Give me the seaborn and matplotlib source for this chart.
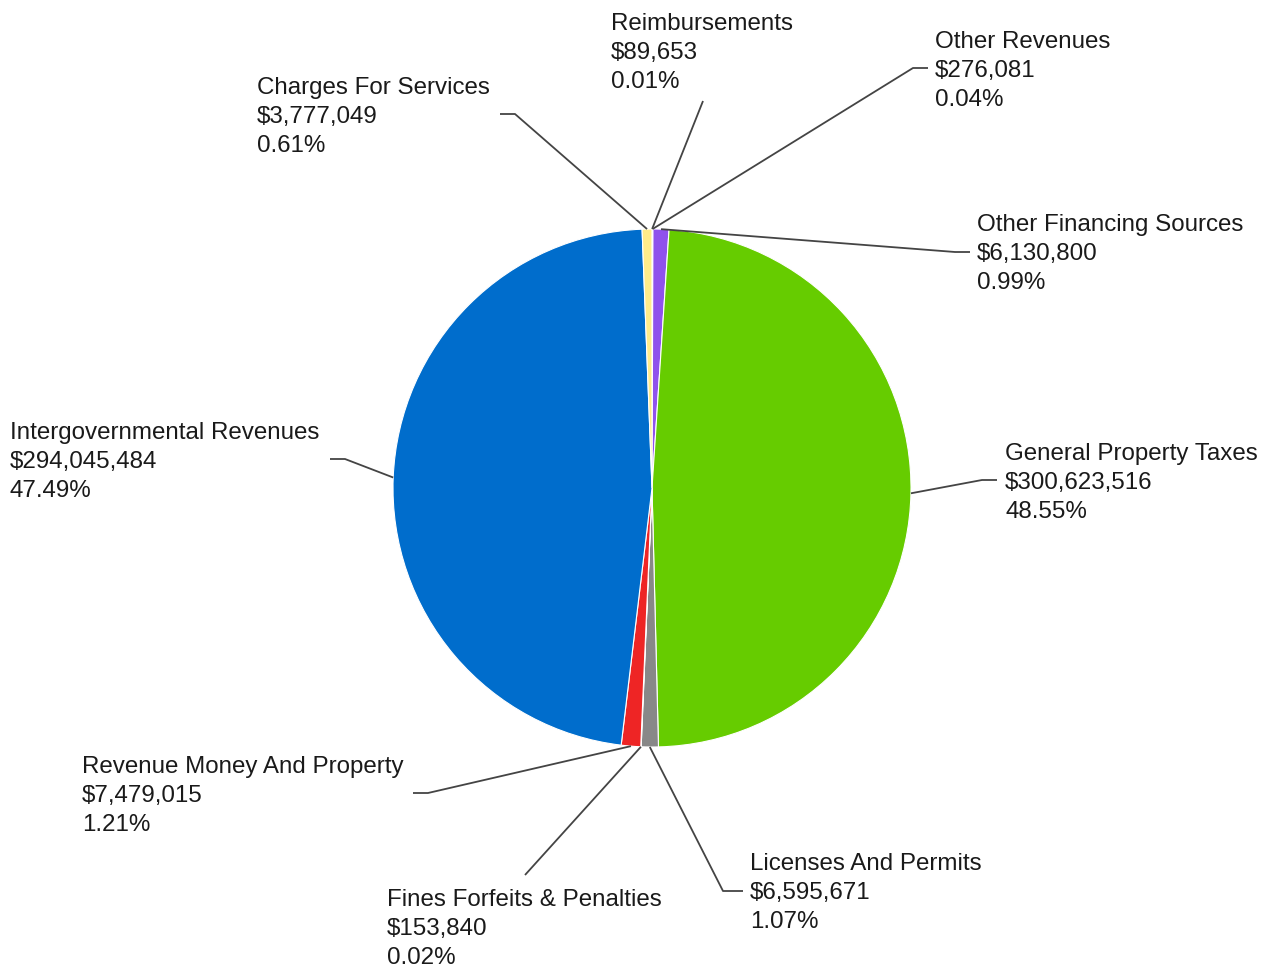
import numpy as np
import matplotlib.pyplot as plt
import seaborn as sns

# Revenue sources, clockwise from 12 o'clock
categories = [
    "Reimbursements",
    "Other Revenues",
    "Other Financing Sources",
    "General Property Taxes",
    "Licenses And Permits",
    "Fines Forfeits & Penalties",
    "Revenue Money And Property",
    "Intergovernmental Revenues",
    "Charges For Services",
]
amounts = [89653, 276081, 6130800, 300623516, 6595671, 153840,
           7479015, 294045484, 3777049]
colors = ["#ff9900", "#00b3b3", "#8f52ec", "#66cc00", "#888888",
          "#a05a2c", "#ee2525", "#006dcc", "#ffec8a"]

# label layout in pixels: text x, text top y, elbow point, end x of short tick
layout = {
    "Reimbursements": (611, 13, (703, 101), None),
    "Other Revenues": (935, 31, (913, 68), 928),
    "Other Financing Sources": (977, 214, (955, 252), 970),
    "General Property Taxes": (1005, 443, (982, 480), 997),
    "Licenses And Permits": (750, 853, (723, 891), 743),
    "Fines Forfeits & Penalties": (387, 889, (525, 875), None),
    "Revenue Money And Property": (82, 756, (428, 793), 413),
    "Intergovernmental Revenues": (10, 422, (345, 459), 330),
    "Charges For Services": (257, 77, (515, 114), 500),
}

sns.set_theme(style="white")
plt.rcParams['font.family'] = ['Liberation Sans', 'DejaVu Sans']

W, H = 1269, 968
cx, cy, r = 652, 488, 259

fig = plt.figure(figsize=(W / 100, H / 100), dpi=100)
ax = fig.add_axes([0, 0, 1, 1])

ax.pie(amounts, colors=colors, startangle=-90, counterclock=True,
       center=(cx, cy), radius=r,
       wedgeprops=dict(edgecolor="white", linewidth=0.8))

ax.set_xlim(0, W)
ax.set_ylim(H, 0)
ax.set_aspect("equal")
ax.axis("off")

vals = np.array(amounts, dtype=float)
frac = vals / vals.sum()
mids = np.cumsum(frac) - frac / 2

for name, v, f, m in zip(categories, amounts, frac, mids):
    tx, ty, (ex, ey), hx = layout[name]
    theta = np.deg2rad(-90 + 360 * m)
    sx, sy = cx + r * np.cos(theta), cy + r * np.sin(theta)
    xs, ys = [sx, ex], [sy, ey]
    if hx is not None:
        xs.append(hx)
        ys.append(ey)
    ax.plot(xs, ys, color="#444444", lw=1.3, solid_capstyle="butt")
    ax.text(tx, ty, f"{name}\n${v:,}\n{f * 100:.2f}%",
            ha="left", va="top", fontsize=17.4, color="#1a1a1a",
            linespacing=1.40)

fig.savefig("out.png", dpi=100, facecolor="white")
